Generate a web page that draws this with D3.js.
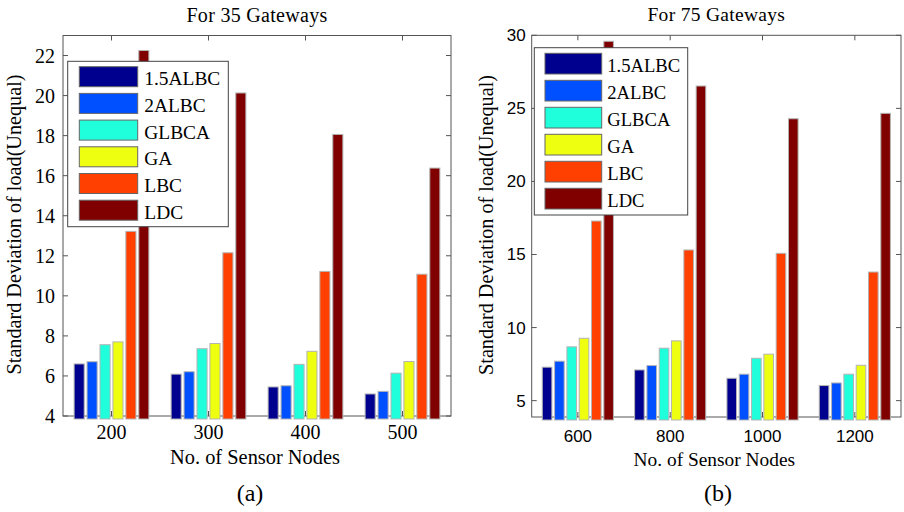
<!DOCTYPE html>
<html>
<head>
<meta charset="utf-8">
<script src="https://cdn.jsdelivr.net/npm/d3@7"></script>
<style>
    body { margin: 0; background: #fff; }
    svg text { font-family: "Liberation Serif", "Times New Roman", Times, serif; fill: #000; }
    svg text.sans { font-family: "Liberation Sans", Arial, Helvetica, sans-serif; }
</style>
</head>
<body>
<svg id="chart" width="904" height="512"></svg>
<script>
var seriesNames = ["1.5ALBC", "2ALBC", "GLBCA", "GA", "LBC", "LDC"];
var seriesColors = ["#00008f", "#0050ff", "#20ffdc", "#eeff10", "#ff4000", "#800000"];

// panel (a): 35 gateways
var nodesA = ["200", "300", "400", "500"];
var albc15A = [6.6, 6.09, 5.45, 5.1];
var albc2A = [6.71, 6.21, 5.51, 5.23];
var glbcaA = [7.56, 7.36, 6.58, 6.14];
var gaA = [7.7, 7.62, 7.23, 6.72];
var lbcA = [13.22, 12.15, 11.22, 11.08];
var ldcA = [22.25, 20.13, 18.06, 16.38];
var yTicksA = [4, 6, 8, 10, 12, 14, 16, 18, 20, 22];

// panel (b): 75 gateways
var nodesB = ["600", "800", "1000", "1200"];
var albc15B = [7.29, 7.1, 6.53, 6.03];
var albc2B = [7.7, 7.4, 6.81, 6.21];
var glbcaB = [8.68, 8.59, 7.9, 6.81];
var gaB = [9.27, 9.09, 8.18, 7.42];
var lbcB = [17.29, 15.31, 15.08, 13.8];
var ldcB = [29.59, 26.53, 24.29, 24.66];
var yTicksB = [5, 10, 15, 20, 25, 30];

(function(){
    var svg = d3.select("#chart"),
        axisColor = "#555",
        tickLen = 5;

    drawPanel({
        title: "For 35 Gateways", caption: "(a)",
        cats: nodesA, series: [albc15A, albc2A, glbcaA, gaA, lbcA, ldcA],
        yDomain: [4, 23], yTicks: yTicksA, tickClass: "",
        left: 63, right: 451, top: 35.5, bottom: 416,
        fontSize: 20, tickFont: 20, tickGap: 8, xTickBase: 439,
        titleBase: 21.7, xLabelBase: 464, captionBase: 501, captionX: 250,
        yLabelX: 20.5, yLabelY: 224.5, xLabelSize: 20.4,
        legend: {x: 67.7, y: 61.3, w: 160.6, h: 165.4, sx: 11.6, sw: 58.4, sh: 20, sy: 5.4, pitch: 26.7, tx: 76.6, fs: 19.4}
    });

    drawPanel({
        title: "For 75 Gateways", caption: "(b)",
        cats: nodesB, series: [albc15B, albc2B, glbcaB, gaB, lbcB, ldcB],
        yDomain: [3.88, 30], yTicks: yTicksB, tickClass: "sans",
        left: 531.7, right: 901, top: 35.3, bottom: 417,
        fontSize: 19.5, tickFont: 17, tickGap: 6, xTickBase: 441.5,
        titleBase: 20.7, xLabelBase: 466, captionBase: 501, captionX: 718,
        yLabelX: 492.5, yLabelY: 225, xLabelSize: 19.4,
        legend: {x: 534.3, y: 47.7, w: 153.4, h: 167.3, sx: 10.7, sw: 56.7, sh: 20.7, sy: 5.6, pitch: 27, tx: 73, fs: 18.6}
    });

    function drawPanel(p){
        var g = svg.append("g");

        var x = d3.scaleBand()
            .domain(p.cats)
            .range([p.left, p.right])
            .paddingInner(0.2)
            .paddingOuter(0.1);

        var xs = d3.scaleBand()
            .domain(d3.range(seriesNames.length))
            .range([0, x.bandwidth()])
            .paddingInner(0.22)
            .paddingOuter(0.11);

        var y = d3.scaleLinear()
            .domain(p.yDomain)
            .range([p.bottom, p.top]);

        var cx = function(c){ return x(c) + x.bandwidth() / 2; };

        // ticks (inward, drawn under the bars)
        var ticks = g.append("g").attr("stroke", axisColor).attr("stroke-width", 1);
        ticks.selectAll("line.yl").data(p.yTicks).enter().append("line")
            .attr("x1", p.left).attr("x2", p.left + tickLen)
            .attr("y1", function(d){ return y(d); }).attr("y2", function(d){ return y(d); });
        ticks.selectAll("line.yr").data(p.yTicks).enter().append("line")
            .attr("x1", p.right).attr("x2", p.right - tickLen)
            .attr("y1", function(d){ return y(d); }).attr("y2", function(d){ return y(d); });
        ticks.selectAll("line.xt").data(p.cats).enter().append("line")
            .attr("x1", cx).attr("x2", cx)
            .attr("y1", p.top).attr("y2", p.top + tickLen);
        ticks.selectAll("line.xb").data(p.cats).enter().append("line")
            .attr("x1", cx).attr("x2", cx)
            .attr("y1", p.bottom).attr("y2", p.bottom - tickLen);

        // box
        g.append("rect")
            .attr("x", p.left).attr("y", p.top)
            .attr("width", p.right - p.left).attr("height", p.bottom - p.top)
            .attr("fill", "none").attr("stroke", axisColor).attr("stroke-width", 1);

        // bars
        var rows = [];
        p.series.forEach(function(vals, si){
            vals.forEach(function(v, ci){
                rows.push({s: si, c: p.cats[ci], v: v});
            });
        });

        g.append("g").selectAll("rect")
            .data(rows)
            .enter()
            .append("rect")
            .attr("x", function(d){ return x(d.c) + xs(d.s); })
            .attr("width", xs.bandwidth())
            .attr("y", function(d){ return y(d.v); })
            .attr("height", function(d){ return p.bottom + 3 - y(d.v); })
            .attr("fill", function(d){ return seriesColors[d.s]; })
            .attr("stroke", "#b4b4b4")
            .attr("stroke-width", 1);

        // tick labels
        g.selectAll("text.ytl").data(p.yTicks).enter().append("text")
            .attr("class", p.tickClass)
            .attr("x", p.left - p.tickGap)
            .attr("y", function(d){ return y(d); })
            .attr("dy", "0.35em")
            .attr("text-anchor", "end")
            .style("font-size", p.tickFont + "px")
            .text(function(d){ return d; });

        g.selectAll("text.xtl").data(p.cats).enter().append("text")
            .attr("class", p.tickClass)
            .attr("x", cx)
            .attr("y", p.xTickBase)
            .attr("text-anchor", "middle")
            .style("font-size", p.tickFont + "px")
            .text(function(d){ return d; });

        // titles and labels
        var mid = (p.left + p.right) / 2;
        g.append("text").attr("x", mid).attr("y", p.titleBase)
            .attr("text-anchor", "middle").style("font-size", p.fontSize + "px")
            .style("letter-spacing", "0.3px")
            .text(p.title);
        g.append("text").attr("x", mid - 2).attr("y", p.xLabelBase)
            .attr("text-anchor", "middle").style("font-size", p.xLabelSize + "px")
            .text("No. of Sensor Nodes");
        g.append("text").attr("x", p.captionX).attr("y", p.captionBase)
            .attr("text-anchor", "middle").style("font-size", "24px")
            .text(p.caption);
        g.append("text")
            .attr("transform", "translate(" + p.yLabelX + "," + p.yLabelY + ") rotate(-90)")
            .attr("text-anchor", "middle").style("font-size", "20.2px")
            .text("Standard Deviation of load(Unequal)");

        // legend
        var L = p.legend;
        var lg = g.append("g").attr("transform", "translate(" + L.x + "," + L.y + ")");
        lg.append("rect")
            .attr("width", L.w).attr("height", L.h)
            .attr("fill", "#fff").attr("stroke", "#444").attr("stroke-width", 1);
        var item = lg.selectAll("g.item")
            .data(seriesNames)
            .enter()
            .append("g")
            .attr("transform", function(d, i){ return "translate(0," + (L.sy + i * L.pitch) + ")"; });
        item.append("rect")
            .attr("x", L.sx).attr("width", L.sw).attr("height", L.sh)
            .attr("fill", function(d, i){ return seriesColors[i]; })
            .attr("stroke", "#666").attr("stroke-width", 1);
        item.append("text")
            .attr("x", L.tx).attr("y", L.sh - 1.5)
            .style("font-size", L.fs + "px")
            .text(function(d){ return d; });
    }
})();
</script>
</body>
</html>
